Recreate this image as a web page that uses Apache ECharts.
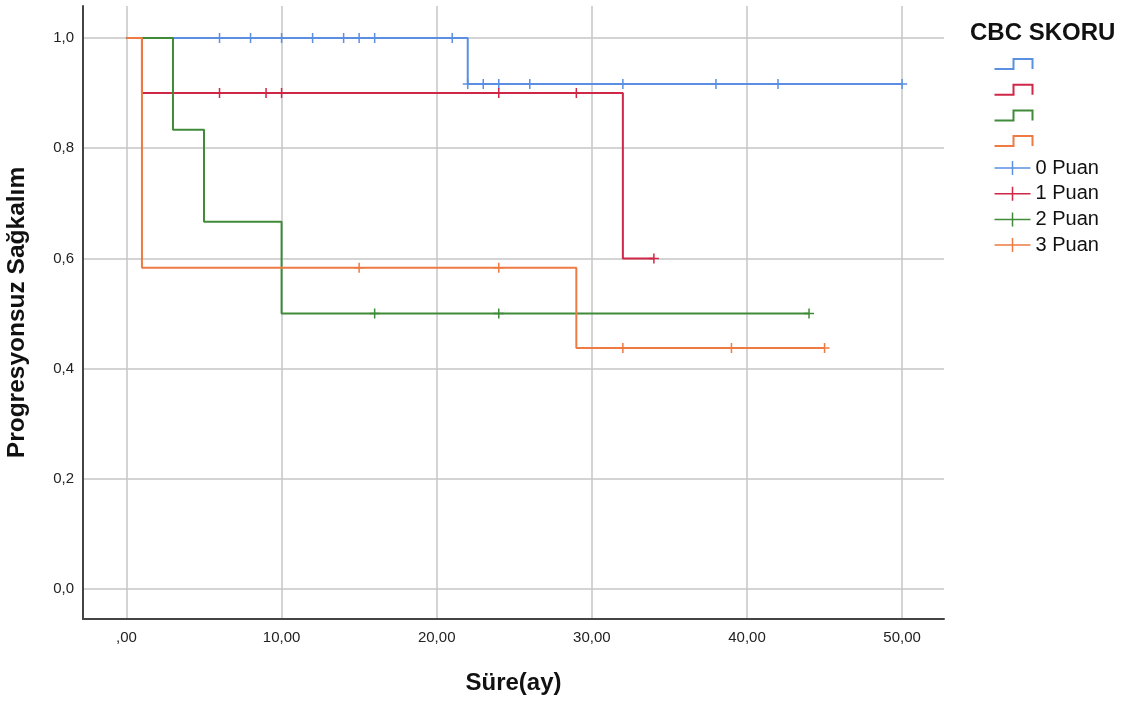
<!DOCTYPE html>
<html>
<head>
<meta charset="utf-8">
<script src="https://cdn.jsdelivr.net/npm/echarts@6/dist/echarts.min.js"></script>
<style>
html,body{margin:0;padding:0;background:#fff;}
#chart{width:1123px;height:702px;}
</style>
</head>
<body>
<div id="chart"></div>
<script>
// ---- Data (Kaplan-Meier estimates) ----
const groupNames = ['0 Puan', '1 Puan', '2 Puan', '3 Puan'];
// event times and survival values right after each event
const eventTimes0 = [0, 22];          const surv0 = [1.0, 0.9167]; const end0 = 50;
const eventTimes1 = [0, 1, 32];       const surv1 = [1.0, 0.9, 0.6]; const end1 = 34;
const eventTimes2 = [0, 3, 5, 10];    const surv2 = [1.0, 0.8333, 0.6667, 0.5]; const end2 = 44;
const eventTimes3 = [0, 1, 29];       const surv3 = [1.0, 0.5833, 0.4375]; const end3 = 45;
// censored times
const censor0 = [6, 8, 10, 12, 14, 15, 16, 21, 22, 23, 24, 26, 32, 38, 42, 50];
const censor1 = [6, 9, 10, 24, 29, 34];
const censor2 = [16, 24, 44];
const censor3 = [15, 24, 32, 39, 45];
// axis ticks
const xTicks = [0, 10, 20, 30, 40, 50];
const yTicks = [0, 0.2, 0.4, 0.6, 0.8, 1.0];

const colors = ['#5b8fe2', '#cf2748', '#3f8b38', '#ee7b43'];

const groups = [
  {t: eventTimes0, s: surv0, end: end0, c: censor0},
  {t: eventTimes1, s: surv1, end: end1, c: censor1},
  {t: eventTimes2, s: surv2, end: end2, c: censor2},
  {t: eventTimes3, s: surv3, end: end3, c: censor3}
];

function survAt(g, x) {
  let v = g.s[0];
  for (let i = 0; i < g.t.length; i++) if (x >= g.t[i]) v = g.s[i];
  return v;
}

const FONT = 'Liberation Sans, Arial, sans-serif';
const plusPath = 'path://M5,0 L5,10 M0,5 L10,5';
const stepIcon = 'path://M0,10 L19,10 L19,0 L38,0 L38,10';
const legPlus = 'path://M0,7 L36,7 M18,0 L18,14';

const series = [];
groups.forEach((g, i) => {
  const pts = g.t.map((x, k) => [x, g.s[k]]);
  pts.push([g.end, g.s[g.s.length - 1]]);
  series.push({
    name: 'KM ' + groupNames[i],
    type: 'line',
    step: 'end',
    data: pts,
    showSymbol: false,
    symbol: 'none',
    silent: true,
    z: 2 + i,
    lineStyle: {color: colors[i], width: 2},
    itemStyle: {color: colors[i]}
  });
});
groups.forEach((g, i) => {
  series.push({
    name: groupNames[i],
    type: 'scatter',
    data: g.c.map(x => [x, survAt(g, x)]),
    symbol: plusPath,
    symbolSize: 10,
    silent: true,
    z: 6 + i,
    itemStyle: {color: 'none', borderColor: colors[i], borderWidth: 1.5, opacity: 1}
  });
});

const chart = echarts.init(document.getElementById('chart'), null, {renderer: 'canvas'});
chart.setOption({
  animation: false,
  backgroundColor: '#ffffff',
  textStyle: {fontFamily: FONT},
  title: {
    text: 'CBC SKORU',
    left: 965, top: 16,
    textStyle: {fontFamily: FONT, fontSize: 24, fontWeight: 'bold', color: '#111'}
  },
  legend: [
    {
      orient: 'vertical', left: 987, top: 51.5,
      itemWidth: 38, itemHeight: 10, itemGap: 10.7,
      selectedMode: false,
      formatter: () => '',
      textStyle: {fontSize: 8, lineHeight: 8},
      data: groupNames.map((n, i) => ({
        name: 'KM ' + n, icon: stepIcon,
        itemStyle: {color: 'none', borderColor: colors[i], borderWidth: 2}
      }))
    },
    {
      orient: 'vertical', left: 987, top: 153,
      itemWidth: 36, itemHeight: 14, itemGap: 5.7,
      selectedMode: false,
      textStyle: {fontFamily: FONT, fontSize: 20, color: '#111', lineHeight: 20},
      data: groupNames.map((n, i) => ({
        name: n, icon: legPlus,
        itemStyle: {color: 'none', borderColor: colors[i], borderWidth: 1.5}
      }))
    }
  ],
  grid: {left: 83, top: 6, right: 179, bottom: 83, containLabel: false, outerBoundsMode: 'none'},
  xAxis: {
    type: 'value',
    min: -2.8, max: 52.7,
    name: 'Süre(ay)',
    nameLocation: 'middle',
    nameGap: 52,
    nameTextStyle: {fontFamily: FONT, fontSize: 24, fontWeight: 'bold', color: '#111'},
    axisLine: {show: true, onZero: false, lineStyle: {color: '#444', width: 2}},
    axisTick: {show: false, customValues: xTicks},
    axisLabel: {
      customValues: xTicks,
      margin: 11,
      fontFamily: FONT, fontSize: 15, color: '#222',
      formatter: v => v === 0 ? ',00' : v.toFixed(2).replace('.', ',')
    },
    splitLine: {show: true, lineStyle: {color: '#c6c6c6', width: 1.5}}
  },
  yAxis: {
    type: 'value',
    min: -0.054, max: 1.058,
    name: 'Progresyonsuz Sağkalım',
    nameLocation: 'middle',
    nameRotate: 90,
    nameGap: 53,
    nameTextStyle: {fontFamily: FONT, fontSize: 24.5, fontWeight: 'bold', color: '#111'},
    axisLine: {show: true, onZero: false, lineStyle: {color: '#444', width: 2}},
    axisTick: {show: false, customValues: yTicks},
    axisLabel: {
      customValues: yTicks,
      margin: 9,
      fontFamily: FONT, fontSize: 15, color: '#222',
      formatter: v => v.toFixed(1).replace('.', ',')
    },
    splitLine: {show: true, lineStyle: {color: '#c6c6c6', width: 1.5}}
  },
  series: series
});
</script>
</body>
</html>
